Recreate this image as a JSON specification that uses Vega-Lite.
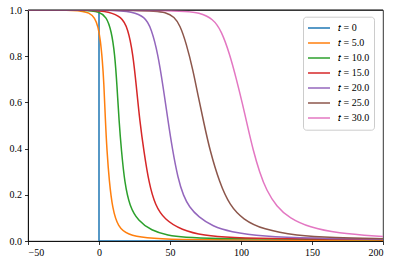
{
  "$schema": "https://vega.github.io/schema/vega-lite/v6.json",
  "width": 355,
  "height": 231,
  "autosize": {"type": "none"},
  "padding": {"left": 28, "top": 10, "right": 16, "bottom": 25},
  "background": "white",
  "config": {
    "view": {"stroke": "black", "strokeWidth": 0.8},
    "font": "Liberation Serif, Times New Roman, serif",
    "axis": {
      "grid": false,
      "domainColor": "black",
      "domainWidth": 0.8,
      "tickColor": "black",
      "tickWidth": 0.8,
      "tickSize": 3.5,
      "labelColor": "black",
      "labelFontSize": 10,
      "labelFont": "Liberation Serif, Times New Roman, serif",
      "labelPadding": 3,
      "title": null,
      "zindex": 1
    }
  },
  "datasets": {
    "step": [
      {"t": "t = 0", "i": 0, "x": -50, "y": 1},
      {"t": "t = 0", "i": 1, "x": 0, "y": 1},
      {"t": "t = 0", "i": 2, "x": 0, "y": 0},
      {"t": "t = 0", "i": 3, "x": 200, "y": 0}
    ],
    "curves": [
      {"t": "t = 5.0", "x": -50, "y": 1},
      {"t": "t = 5.0", "x": -14, "y": 1},
      {"t": "t = 5.0", "x": -6.6, "y": 0.988},
      {"t": "t = 5.0", "x": -3, "y": 0.966},
      {"t": "t = 5.0", "x": -0.7, "y": 0.93},
      {"t": "t = 5.0", "x": 1, "y": 0.87},
      {"t": "t = 5.0", "x": 2.4, "y": 0.78},
      {"t": "t = 5.0", "x": 3.4, "y": 0.69},
      {"t": "t = 5.0", "x": 4.5, "y": 0.52},
      {"t": "t = 5.0", "x": 5.6, "y": 0.39},
      {"t": "t = 5.0", "x": 7.2, "y": 0.26},
      {"t": "t = 5.0", "x": 9.5, "y": 0.14},
      {"t": "t = 5.0", "x": 13.4, "y": 0.06},
      {"t": "t = 5.0", "x": 20.4, "y": 0.027},
      {"t": "t = 5.0", "x": 32.2, "y": 0.013},
      {"t": "t = 5.0", "x": 55, "y": 0.006},
      {"t": "t = 5.0", "x": 100, "y": 0.004},
      {"t": "t = 5.0", "x": 200, "y": 0.002},

      {"t": "t = 10.0", "x": -50, "y": 1},
      {"t": "t = 10.0", "x": -8, "y": 1},
      {"t": "t = 10.0", "x": 0, "y": 0.992},
      {"t": "t = 10.0", "x": 5.2, "y": 0.972},
      {"t": "t = 10.0", "x": 8.7, "y": 0.91},
      {"t": "t = 10.0", "x": 11.1, "y": 0.81},
      {"t": "t = 10.0", "x": 12.7, "y": 0.67},
      {"t": "t = 10.0", "x": 14.1, "y": 0.52},
      {"t": "t = 10.0", "x": 15.8, "y": 0.39},
      {"t": "t = 10.0", "x": 18.1, "y": 0.25},
      {"t": "t = 10.0", "x": 21.6, "y": 0.15},
      {"t": "t = 10.0", "x": 27.5, "y": 0.088},
      {"t": "t = 10.0", "x": 36.9, "y": 0.045},
      {"t": "t = 10.0", "x": 48.6, "y": 0.024},
      {"t": "t = 10.0", "x": 60, "y": 0.016},
      {"t": "t = 10.0", "x": 80, "y": 0.011},
      {"t": "t = 10.0", "x": 130, "y": 0.008},
      {"t": "t = 10.0", "x": 200, "y": 0.006},

      {"t": "t = 15.0", "x": -50, "y": 1},
      {"t": "t = 15.0", "x": -2, "y": 1},
      {"t": "t = 15.0", "x": 6.3, "y": 0.992},
      {"t": "t = 15.0", "x": 15.8, "y": 0.972},
      {"t": "t = 15.0", "x": 20.4, "y": 0.92},
      {"t": "t = 15.0", "x": 23.9, "y": 0.81},
      {"t": "t = 15.0", "x": 26.3, "y": 0.67},
      {"t": "t = 15.0", "x": 28.7, "y": 0.52},
      {"t": "t = 15.0", "x": 31.7, "y": 0.385},
      {"t": "t = 15.0", "x": 35.2, "y": 0.25},
      {"t": "t = 15.0", "x": 39.5, "y": 0.155},
      {"t": "t = 15.0", "x": 46.3, "y": 0.092},
      {"t": "t = 15.0", "x": 58, "y": 0.048},
      {"t": "t = 15.0", "x": 74.4, "y": 0.023},
      {"t": "t = 15.0", "x": 92, "y": 0.014},
      {"t": "t = 15.0", "x": 130, "y": 0.009},
      {"t": "t = 15.0", "x": 200, "y": 0.007},

      {"t": "t = 20.0", "x": -50, "y": 1},
      {"t": "t = 20.0", "x": 12, "y": 1},
      {"t": "t = 20.0", "x": 22.8, "y": 0.992},
      {"t": "t = 20.0", "x": 32.2, "y": 0.972},
      {"t": "t = 20.0", "x": 36.9, "y": 0.92},
      {"t": "t = 20.0", "x": 41.5, "y": 0.81},
      {"t": "t = 20.0", "x": 45.1, "y": 0.67},
      {"t": "t = 20.0", "x": 48.6, "y": 0.52},
      {"t": "t = 20.0", "x": 51.6, "y": 0.4},
      {"t": "t = 20.0", "x": 55.6, "y": 0.27},
      {"t": "t = 20.0", "x": 59.5, "y": 0.195},
      {"t": "t = 20.0", "x": 63.5, "y": 0.148},
      {"t": "t = 20.0", "x": 70, "y": 0.104},
      {"t": "t = 20.0", "x": 80.3, "y": 0.063},
      {"t": "t = 20.0", "x": 92, "y": 0.04},
      {"t": "t = 20.0", "x": 115.5, "y": 0.02},
      {"t": "t = 20.0", "x": 150, "y": 0.012},
      {"t": "t = 20.0", "x": 200, "y": 0.008},

      {"t": "t = 25.0", "x": -50, "y": 1},
      {"t": "t = 25.0", "x": 36, "y": 1},
      {"t": "t = 25.0", "x": 47.5, "y": 0.99},
      {"t": "t = 25.0", "x": 53, "y": 0.97},
      {"t": "t = 25.0", "x": 57, "y": 0.935},
      {"t": "t = 25.0", "x": 61.5, "y": 0.855},
      {"t": "t = 25.0", "x": 66.2, "y": 0.74},
      {"t": "t = 25.0", "x": 69.9, "y": 0.625},
      {"t": "t = 25.0", "x": 73.9, "y": 0.51},
      {"t": "t = 25.0", "x": 78, "y": 0.394},
      {"t": "t = 25.0", "x": 85, "y": 0.25},
      {"t": "t = 25.0", "x": 92, "y": 0.155},
      {"t": "t = 25.0", "x": 101.4, "y": 0.093},
      {"t": "t = 25.0", "x": 115.5, "y": 0.05},
      {"t": "t = 25.0", "x": 139, "y": 0.023},
      {"t": "t = 25.0", "x": 165, "y": 0.014},
      {"t": "t = 25.0", "x": 200, "y": 0.01},

      {"t": "t = 30.0", "x": -50, "y": 1},
      {"t": "t = 30.0", "x": 58, "y": 1},
      {"t": "t = 30.0", "x": 70.9, "y": 0.988},
      {"t": "t = 30.0", "x": 80.3, "y": 0.962},
      {"t": "t = 30.0", "x": 86.2, "y": 0.91},
      {"t": "t = 30.0", "x": 92, "y": 0.81},
      {"t": "t = 30.0", "x": 96.8, "y": 0.70},
      {"t": "t = 30.0", "x": 101, "y": 0.595},
      {"t": "t = 30.0", "x": 104.5, "y": 0.5},
      {"t": "t = 30.0", "x": 108.5, "y": 0.394},
      {"t": "t = 30.0", "x": 113.2, "y": 0.295},
      {"t": "t = 30.0", "x": 117.9, "y": 0.22},
      {"t": "t = 30.0", "x": 124.9, "y": 0.15},
      {"t": "t = 30.0", "x": 134.3, "y": 0.098},
      {"t": "t = 30.0", "x": 148.4, "y": 0.059},
      {"t": "t = 30.0", "x": 167.2, "y": 0.034},
      {"t": "t = 30.0", "x": 200, "y": 0.019}
    ]
  },
  "layer": [
    {
      "data": {"name": "step"},
      "mark": {"type": "line", "strokeWidth": 1.5, "clip": true},
      "encoding": {
        "x": {"field": "x", "type": "quantitative", "scale": {"domain": [-50, 200], "nice": false, "zero": false},
              "axis": {"values": [-50, 0, 50, 100, 150, 200], "format": "d"}},
        "y": {"field": "y", "type": "quantitative", "scale": {"domain": [0, 1], "nice": false},
              "axis": {"values": [0, 0.2, 0.4, 0.6, 0.8, 1.0], "format": ".1f"}},
        "order": {"field": "i", "type": "quantitative"},
        "color": {
          "field": "t", "type": "nominal",
          "scale": {
            "domain": ["t = 0", "t = 5.0", "t = 10.0", "t = 15.0", "t = 20.0", "t = 25.0", "t = 30.0"],
            "range": ["#1f77b4", "#ff7f0e", "#2ca02c", "#d62728", "#9467bd", "#8c564b", "#e377c2"]
          },
          "legend": {
            "title": null,
            "orient": "none",
            "legendX": 275,
            "legendY": 6.7,
            "padding": 4,
            "fillColor": "rgba(255,255,255,0.8)",
            "strokeColor": "#cccccc",
            "cornerRadius": 3,
            "symbolType": "stroke",
            "symbolSize": 484,
            "symbolStrokeWidth": 1.5,
            "labelFontSize": 10,
            "labelFont": "Liberation Serif, Times New Roman, serif",
            "labelColor": "black",
            "labelOffset": 7,
            "labelExpr": "replace(datum.label, 't', '𝑡')",
            "clipHeight": 14.7,
            "rowPadding": 0
          }
        }
      }
    },
    {
      "data": {"name": "curves"},
      "mark": {"type": "line", "strokeWidth": 1.5, "interpolate": "basis", "clip": true},
      "encoding": {
        "x": {"field": "x", "type": "quantitative"},
        "y": {"field": "y", "type": "quantitative"},
        "color": {"field": "t", "type": "nominal"}
      }
    },
    {
      "data": {"values": [{}]},
      "mark": {"type": "rule", "color": "black", "strokeWidth": 0.8},
      "encoding": {"y": {"datum": 1}}
    }
  ]
}
